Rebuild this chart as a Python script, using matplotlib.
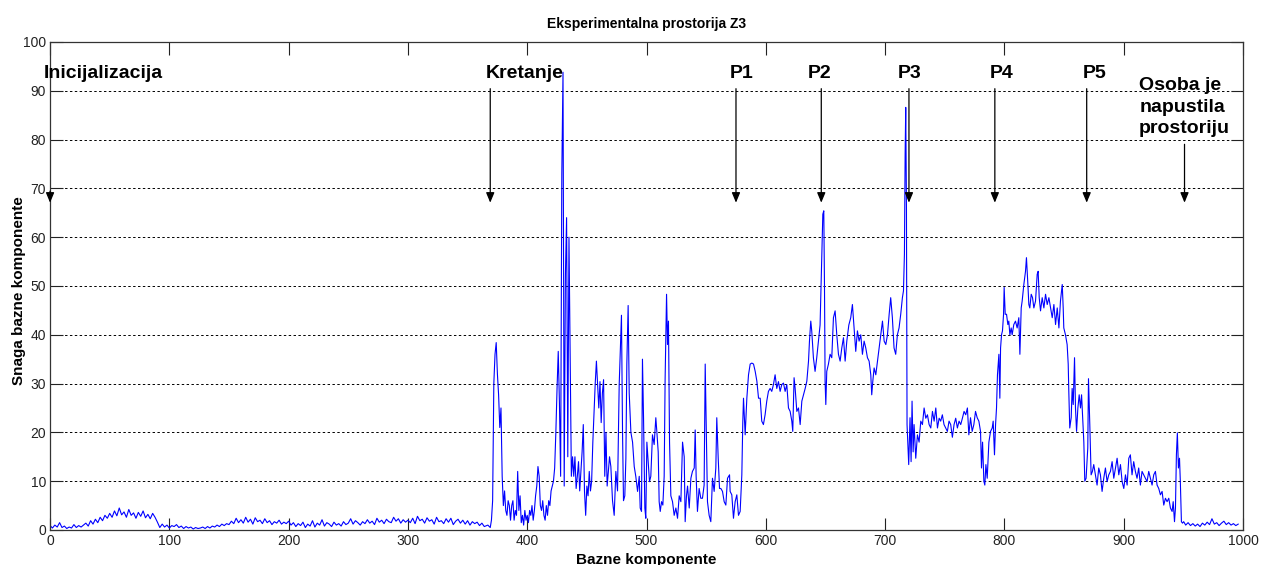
import numpy as np
import matplotlib
matplotlib.use("Agg")
import matplotlib.pyplot as plt

plt.rcParams["font.family"] = ["Liberation Sans", "DejaVu Sans"]

# mirno stanje (inicijalizacija), uzorak svake 2 komponente
x_mir = np.arange(0, 365, 2)
y_mir = [0.9, 0.4, 1.0, 0.6, 1.5, 0.5, 0.8, 0.3, 0.6, 0.4, 1.1, 0.5, 0.9, 0.6, 1.0,
         1.4, 0.8, 1.9, 1.2, 2.2, 1.5, 2.6, 1.9, 3.0, 2.4,
         3.4, 2.6, 3.9, 2.9, 4.5, 3.1, 3.7, 2.6, 4.2, 3.0, 3.5, 2.4, 3.6, 2.8, 3.9, 2.5,
         3.2, 2.3, 3.4, 2.6,
         1.6, 0.5, 1.2, 0.6, 1.0, 0.4, 0.9, 0.7, 1.1, 0.5, 0.8, 0.3, 0.7, 0.4, 0.6, 0.2,
         0.5, 0.3, 0.4, 0.6, 0.3, 0.7, 0.4, 0.8, 0.6, 1.0, 0.7, 1.2, 0.9, 1.3,
         1.1, 1.8, 1.3, 2.4, 1.5, 2.1, 1.4, 2.6, 1.6, 2.2, 1.2, 2.5, 1.7, 2.0, 1.3, 2.3,
         1.5, 1.9, 1.1, 1.7, 1.4, 2.0, 1.2, 1.6, 1.3,
         1.8, 1.0, 1.5, 0.7, 1.3, 0.9, 1.6, 0.5, 1.2, 0.8, 1.9, 0.6, 1.4, 1.0, 2.1, 0.8,
         1.5, 1.2, 0.7, 1.6, 1.0, 1.3, 0.8, 1.7, 1.1,
         1.4, 2.3, 1.2, 1.9, 1.5, 1.0, 1.7, 1.3, 2.1, 1.4, 1.8, 1.1, 2.4, 1.6, 2.0, 1.3,
         2.2, 1.7, 1.5, 2.6, 1.8, 2.3, 1.4, 2.1, 1.6,
         2.0, 1.5, 2.4, 1.3, 2.8, 1.9, 2.2, 1.4, 2.5, 1.8, 2.1, 1.2, 2.6, 1.7, 1.9, 1.3,
         2.3, 1.6, 2.4, 1.1, 1.8, 2.2, 1.4, 2.0, 1.2,
         1.9, 1.0, 1.7, 1.3, 1.6, 0.9, 1.4, 0.7]

# kretanje
x_kret = [367, 369, 370, 371, 372, 373, 374, 375, 376, 377, 378, 379, 380, 381, 382,
          383, 384, 385, 386, 387, 388, 389, 390, 391, 392, 393, 394, 395, 396, 397,
          398, 399, 400, 401, 402, 403, 404, 405, 406, 407, 408, 409, 410, 411, 412,
          413, 414, 415, 416, 417, 418, 419, 420, 421, 422, 423, 424, 425, 426, 427,
          428, 429, 430, 431, 432, 433, 434, 435, 436, 437, 438, 439, 440, 441, 442,
          443, 444, 445, 446, 447, 448, 449, 450, 451, 452, 453, 454, 455, 456, 457,
          458, 459, 460, 461, 462, 463, 464, 465, 466, 467, 468, 469,
          470.1, 471.5, 472.9, 474.3, 475.7, 477.1, 477.9, 479.0, 479.9, 480.7, 481.8,
          482.7, 483.5, 484.6, 485.5, 486.9, 488.3, 489.7, 491.0, 492.5, 493.9, 494.7,
          495.8, 496.6, 497.5, 498.6, 499.4, 500.3, 501.4, 502.5, 503.6, 505.0, 506.4,
          507.8, 508.7, 509.8, 510.6, 511.5, 512.6, 513.7, 514.8, 515.6, 516.8, 517.6,
          518.4, 519.3, 520.4, 521.8, 523.2, 524.6, 526.0, 527.4, 528.8, 530.2, 531.6,
          532.4, 533.5, 534.4, 535.8, 537.2, 538.5, 540.0, 540.8, 541.6, 542.7, 544.1,
          545.5, 546.9, 548.3, 549.2, 550.3, 551.1, 552.5, 553.9, 555.3, 556.7, 558.1,
          558.9, 560.1, 561.2, 562.3, 563.7, 565.1, 566.5, 567.9, 569.6,
          570.1, 571.5, 572.9, 574.3, 575.7, 577.1, 578.5]
y_kret = [1.0, 0.5, 2, 6, 30, 36, 38.4, 32, 27.7, 21, 25, 11, 5, 8, 4, 3, 6, 5, 2, 5,
          6, 2, 4, 3, 12, 4, 7, 1.5, 3, 1, 4, 2, 3, 1.5, 4, 3, 5, 2, 4, 7, 9, 13, 11, 5,
          4, 6, 3, 2, 5, 3, 6, 5, 8, 9, 10, 12.7, 20, 29, 36.6, 26, 11, 73, 93.8, 9, 52,
          64, 15, 60, 34.6, 11, 15, 11, 15, 8.5, 11, 14, 8, 12, 16, 21.6, 8, 3, 9, 7, 12,
          8, 10, 18, 24, 30, 34.6, 29.8, 25, 30.4, 22, 28, 30.8, 11, 20, 9, 12, 15,
          13, 6, 3, 12, 8, 29.8, 36, 44, 20, 6, 7, 14.7, 34, 46, 28, 20, 18, 13, 11, 7.9,
          11, 4.5, 3.8, 35, 23, 4.5, 2.4, 18, 14, 9.9, 11, 19.5, 17.5, 23, 20, 16, 5.8,
          3.8, 5.8, 5.1, 11, 31, 48.3, 38, 42.8, 18, 7, 5.8, 3, 4.5, 2.4, 7, 5.8, 18, 15,
          1.7, 7, 9, 4.5, 10.6, 12, 12.7, 20.5, 11, 3.8, 8.5, 6.5, 6.5, 9.2, 34, 18, 5.8,
          3, 1.7, 10.6, 7.9, 12.7, 23, 14.7, 8.5, 8.5, 7.9, 5.8, 5.1, 10.6, 11.3,
          7.9, 7.2, 2.4, 5.8, 7.2, 3, 3.8]

# pozicije P1 - P5
x_poz = [579.9, 580.7, 581.3, 582.7, 584.1, 585.5, 586.9, 588.3, 589.7, 591.1, 592.5,
         593.9, 595.3, 596.6, 598.0, 599.4, 600.8, 602.2, 603.6, 605.0, 606.4, 607.8,
         609.2, 610.6, 612.0, 613.4, 614.8, 616.2, 617.6, 619.0, 620.4, 621.8, 622.6,
         623.7, 624.6, 626.0, 627.4, 628.8, 630.2, 631.6, 633.0, 634.4, 635.8, 636.6,
         637.7, 638.5, 639.9, 641.3, 642.7, 644.1, 645.5, 646.9, 647.8, 648.6, 649.2,
         649.7, 650.3, 651.1, 652.5, 653.9, 655.3, 656.7, 658.1, 659.5, 660.9, 662.3,
         663.7, 665.1, 666.5, 667.9, 669.6, 671.2, 672.6, 674.0, 675.4, 676.8, 678.2,
         679.6, 681.0, 682.4, 683.8, 685.2, 686.6, 688.0, 688.8, 689.7, 690.8, 692.2,
         693.6, 695.0, 696.4, 697.8, 699.2, 700.6, 702.0, 703.4, 704.7, 706.1, 707.5,
         708.9, 710.3, 711.7, 713.1, 714.5, 715.4, 716.2, 716.8, 717.3, 717.9, 718.4,
         719.0, 719.8, 720.9, 721.8, 722.6, 723.5, 724.3, 725.7, 727.1, 728.5, 729.9,
         731.3, 732.7, 734.1, 735.5, 736.9, 738.3, 739.7, 741.1, 742.5, 743.9, 745.3,
         746.6, 748.0, 749.4, 750.8, 752.2, 753.6, 755.0, 756.4, 757.8, 759.2, 760.6,
         762.0, 763.4, 764.8, 766.2, 767.6, 769.0, 770.2, 771.6, 773.0, 774.4, 775.8,
         777.2, 778.6, 780.0, 780.8, 781.7, 782.8, 783.6, 784.5, 785.6, 787.0, 788.4,
         789.8, 790.6, 791.7, 792.6, 793.4, 794.2, 795.4, 796.2, 796.8, 797.6, 798.4,
         799.3, 799.8, 800.7, 801.8, 802.9, 803.7, 804.6, 805.7, 806.5, 807.9, 809.3,
         810.7, 812.1, 813.0, 814.1, 814.9, 816.3, 817.7, 818.5, 819.7, 820.5, 821.3,
         822.5, 823.6, 824.7, 826.1, 827.5, 828.3, 829.2, 830.3, 831.7, 833.1, 834.5,
         835.9, 837.3, 838.7, 840.1, 841.5, 842.9, 844.3, 845.7, 847.0, 848.5, 849.3,
         849.8, 851.2, 852.6, 853.5, 854.0, 854.8, 856.0, 856.8, 857.7, 858.8, 859.6,
         860.5, 861.6, 862.7, 863.8, 864.7, 865.5, 866.6, 867.4, 868.5, 869.9, 870.5,
         871.6, 872.7, 873.8, 874.9, 876.3, 877.7, 879.1, 880.5, 881.9, 883.3, 884.7,
         886.1, 887.5, 888.9, 890.3, 891.7, 893.1, 894.5, 895.9, 897.3, 898.7, 900.1,
         901.5, 902.9, 904.3, 905.6, 907.0, 908.4, 909.8, 911.2, 912.6, 914.0, 915.4,
         916.8, 918.2, 919.6, 921.0, 922.4, 923.8, 925.2, 926.6, 928.0, 929.4, 930.8,
         932.2, 933.6, 935.0, 936.4, 937.8, 939.2, 940.6, 941.5, 942.6, 943.4, 944.2,
         945.0, 945.9, 946.8, 947.5, 948.4, 949.3, 950.3]
y_poz = [11.3, 22, 27, 19.5, 27, 31.8, 34, 34.2, 34, 32.5, 30.5, 27, 27, 22.3, 21.6,
         23.6, 26.4, 28.4, 29, 28.4, 29.8, 31.8, 29, 30.4, 28.4, 29.8, 30.1, 28.4, 29.8,
         25, 24.3, 22.3, 20.2, 31.2, 29, 24.3, 25, 21.6, 26.4, 27.7, 29, 30.5, 34.6,
         38.7, 42.8, 40.8, 35.3, 32.5, 35.3, 38.7, 42, 55.8, 64.7, 65.4, 49.7, 30.5,
         25.7, 32.5, 34, 36, 35.3, 43.5, 44.9, 40, 36, 34.6, 37.3, 39.4, 34.6, 38.7, 42,
         43.5, 46.2, 41.4, 36.6, 40.8, 38.7, 40, 36, 38.7, 37.3, 35.3, 34.6, 31.8, 27.7,
         30.5, 33.2, 31.8, 34.6, 37.3, 40, 42.8, 38.7, 38, 40, 44.2, 47.6, 43.5, 37.3,
         36, 40, 41.4, 44.2, 47.6, 49, 56.5, 77, 86.6, 66, 21.6, 18, 13.4, 23, 14, 26.4,
         16, 21.6, 14.7, 19.5, 18, 22.3, 21.6, 25, 22.9, 23.6, 21.6, 20.9, 24.3, 22.3,
         25, 20.9, 22.9, 22.3, 23.6, 21.6, 20.9, 20.2, 22.3, 21.6, 19, 21.6, 22.9, 20.9,
         22.3, 21.6, 22.9, 24.3, 23.6, 25, 19.5, 23, 20.2, 21.6, 24.3, 23, 22.3, 20.2,
         12.7, 18, 10, 9.2, 13.4, 10.6, 18, 20.2, 20.9, 22.3, 15.4, 21.6, 25, 31.8, 36,
         27, 37.3, 40, 40.8, 44.2, 49.7, 44.2, 44.2, 42.1, 42.8, 40, 41.4, 40, 42.1,
         42.8, 41.4, 43.5, 36, 45.5, 46.9, 50.3, 53, 55.8, 50.3, 46.2, 45.5, 48.3, 47.6,
         45.5, 46.9, 52.4, 53, 47.6, 44.9, 47.6, 45.5, 48.3, 46.2, 47.6, 45.5, 43.5, 46.2,
         42.1, 45.5, 41.4, 46.9, 50.3, 45.5, 41.4, 40, 38, 34, 28.4, 20.9, 23, 29, 25.7,
         35.3, 25, 20.2, 25, 27.7, 25, 27.7, 23.6, 18, 10, 10.6, 16.8, 31, 21.6, 11.3,
         12, 13.4, 11.3, 9.2, 12.7, 11.3, 7.9, 10.6, 12.7, 9.9, 11.3, 12, 14, 10.6, 12.7,
         14.7, 11.3, 13.4, 9.9, 8.5, 11.3, 9.2, 14.7, 15.4, 11.3, 14, 12, 10.6, 12.7, 9.2,
         12, 11.3, 10.6, 9.9, 12, 10.6, 9.2, 11.3, 12, 9.2, 8.5, 7.2, 7.9, 5.1, 6.5, 5.8,
         6.5, 4.5, 3.8, 5.8, 1.7, 4.5, 15.4, 19.9, 12.7, 14.7, 9.9, 1.7, 1.4, 1.7]

# osoba je napustila prostoriju
x_kraj = [952, 954, 956, 958, 960, 962, 964, 966, 968, 970, 972, 974, 976, 978, 980,
          982, 984, 986, 988, 990, 992, 994, 996]
y_kraj = [1.0, 1.5, 0.9, 1.3, 0.8, 1.2, 0.7, 1.4, 1.0, 1.6, 1.1, 2.3, 1.2, 1.5, 0.9,
          1.4, 1.8, 1.1, 1.5, 1.0, 1.3, 0.9, 1.2]

oznake = ["Inicijalizacija", "Kretanje", "P1", "P2", "P3", "P4", "P5",
          "Osoba je\nnapustila\nprostoriju"]
strelice_x = [0, 369, 575, 646.5, 720, 792, 869, 951]
tekst_x = [-5, 365, 579.5, 645, 720.5, 798, 876, 913]
strelice_od = [70, 91, 91, 91, 91, 91, 91, 79.6]

komponente = np.concatenate([x_mir, x_kret, x_poz, x_kraj])
snaga = np.concatenate([y_mir, y_kret, y_poz, y_kraj])

fig = plt.figure(figsize=(12.61, 5.65), dpi=100)
ax = fig.add_axes([0.0397, 0.062, 0.946, 0.8637])

ax.plot(komponente, snaga, color="#0000ff", lw=0.8)

ax.set_xlim(0, 1000)
ax.set_ylim(0, 100)
ax.set_xticks(np.arange(0, 1001, 100))
ax.set_yticks(np.arange(0, 101, 10))
ax.tick_params(direction="in", top=True, right=True, length=9, width=0.8,
               labelsize=10, colors="#222222", pad=3)
ax.yaxis.grid(True, color="black", linestyle=(0, (2.5, 2.5)), lw=0.7)
for s in ax.spines.values():
    s.set_color("#333333")
    s.set_linewidth(0.9)

ax.set_title("Eksperimentalna prostorija Z3", fontsize=10, fontweight="bold", pad=10)
ax.set_xlabel("Bazne komponente", fontsize=11, fontweight="bold")
ax.xaxis.set_label_coords(0.5, -0.048)
ax.set_ylabel("Snaga bazne komponente", fontsize=11, fontweight="bold")
ax.yaxis.set_label_coords(-0.02, 0.49)

# strelice s oznakama
glava = "-|>,head_length=0.6,head_width=0.25"
for i, lab in enumerate(oznake):
    if i == len(oznake) - 1:
        ax.text(tekst_x[i], 86.6, lab, fontsize=14, fontweight="bold", ha="left",
                va="center", linespacing=1.35)
    elif i <= 1:
        ax.text(tekst_x[i], 93.6, lab, fontsize=14, fontweight="bold", ha="left",
                va="center")
    else:
        ax.text(tekst_x[i], 93.6, lab, fontsize=14, fontweight="bold", ha="center",
                va="center")
    ax.annotate("", xy=(strelice_x[i], 66.5), xytext=(strelice_x[i], strelice_od[i]),
                arrowprops=dict(arrowstyle=glava, color="black", lw=0.9))

fig.savefig("out.png", dpi=100)
